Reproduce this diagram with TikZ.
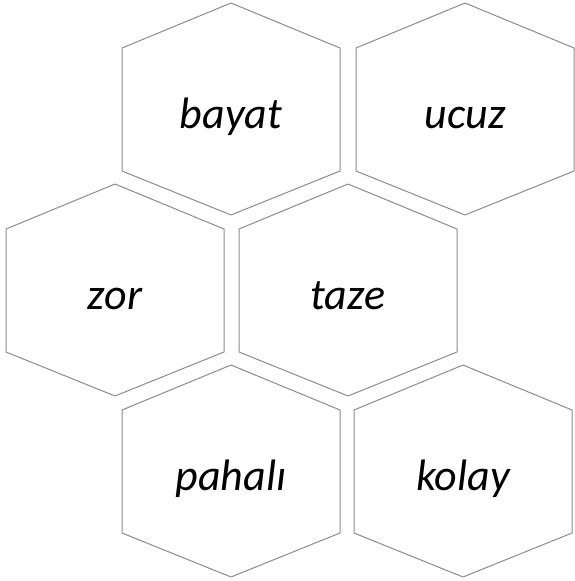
\documentclass[tikz,border=0pt]{standalone}
\usepackage{fontspec}
\setsansfont{Carlito}

\begin{document}
\begin{tikzpicture}[x=1pt,y=-1pt,
 hex border/.style={draw=gray!90,line width=1pt,line join=round,fill=white},
 hex text/.style={font=\sffamily\itshape\fontsize{44}{48}\selectfont,anchor=base,inner sep=0pt},
 pics/hexcell/.style={code={
  \draw[hex border] (0,-106) -- (109,-61) -- (109,62) -- (0,106)
   -- (-109,62) -- (-109,-61) -- cycle;
  \node[hex text] (-label) at (0,19) {#1};
 }}]
 \useasboundingbox (0,0) rectangle (574,581);
 % top row
 \pic (bayat) at (231,109) {hexcell=bayat};
 \pic (ucuz) at (465,109) {hexcell=ucuz};
 % middle row
 \pic (zor) at (115,290) {hexcell=zor};
 \pic (taze) at (348,290) {hexcell=taze};
 % bottom row
 \pic (pahali) at (231,471) {hexcell=pahalı};
 \pic (kolay) at (463,471) {hexcell=kolay};
\end{tikzpicture}
\end{document}
